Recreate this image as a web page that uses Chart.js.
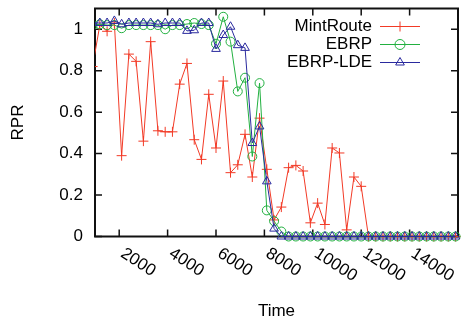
<!DOCTYPE html>
<html>
<head>
<meta charset="utf-8">
<script src="https://cdn.jsdelivr.net/npm/chart.js@4.4.1/dist/chart.umd.min.js"></script>
<style>
  html, body { margin: 0; padding: 0; background: #ffffff; }
  #wrap { width: 464px; height: 323px; }
</style>
</head>
<body>
<div id="wrap"><canvas id="c" width="464" height="323"></canvas></div>
<script>
// Sampling instants (time)
const times = [900, 1200, 1500, 1800, 2100, 2400, 2700, 3000, 3300, 3600,
  3900, 4200, 4500, 4800, 5100, 5400, 5700, 6000, 6300, 6600,
  6900, 7200, 7500, 7800, 8100, 8400, 8700, 9000, 9300, 9600,
  9900, 10200, 10500, 10800, 11100, 11400, 11700, 12000, 12300, 12600,
  12900, 13200, 13500, 13800, 14100, 14400, 14700, 15000, 15300, 15600, 15900];

// RPR per protocol
const mintRoute = [0.82, 1.02, 0.99, 1.03, 0.39, 0.88, 0.845, 0.46, 0.94, 0.51,
  0.505, 0.505, 0.735, 0.835, 0.467, 0.372, 0.686, 0.427, 0.75, 0.308,
  0.346, 0.493, 0.287, 0.571, 0.324, 0.08, 0.142, 0.332, 0.343, 0.316,
  0.066, 0.161, 0.058, 0.427, 0.403, 0.032, 0.287, 0.242, 0, 0,
  0, 0, 0, 0, 0, 0, 0, 0, 0, 0, 0];
const ebrp = [1.02, 1.024, 1.02, 1.02, 1.005, 1.02, 1.02, 1.02, 1.02, 1.02,
  1.0, 1.02, 1.02, 1.025, 1.03, 1.025, 1.02, 0.93, 1.06, 0.94,
  0.70, 0.766, 0.386, 0.74, 0.126, 0.074, 0.024, 0, 0, 0,
  0, 0, 0, 0, 0, 0, 0, 0, 0, 0,
  0, 0, 0, 0, 0, 0, 0, 0, 0, 0, 0];
const ebrpLde = [1.03, 1.03, 1.03, 1.04, 1.024, 1.03, 1.03, 1.03, 1.03, 1.024,
  1.03, 1.03, 1.03, 0.992, 0.995, 1.03, 1.03, 0.905, 0.972, 1.012,
  0.923, 0.91, 0.451, 0.531, 0.266, 0.038, 0, 0, 0, 0,
  0, 0, 0, 0, 0, 0, 0, 0, 0, 0,
  0, 0, 0, 0, 0, 0, 0, 0, 0, 0, 0];

// Axis ticks
const xTickValues = [2000, 4000, 6000, 8000, 10000, 12000, 14000, 16000];
const xTickLabels = ['2000', '4000', '6000', '8000', '10000', '12000', '14000'];
const yTickValues = [0, 0.2, 0.4, 0.6, 0.8, 1];
const yTickLabels = ['0', '0.2', '0.4', '0.6', '0.8', '1'];

const seriesNames = ['MintRoute', 'EBRP', 'EBRP-LDE'];
const seriesColors = ['#f23a26', '#22b040', '#2a2a9e'];
const seriesMarkers = ['cross', 'circle', 'triangle'];

const FONT = '"Liberation Sans", Arial, Helvetica, sans-serif';
const toPoints = arr => arr.map((v, i) => ({ x: times[i], y: v }));

function markerPath(ctx, style, x, y, r) {
  ctx.beginPath();
  if (style === 'cross') {
    ctx.moveTo(x - r, y); ctx.lineTo(x + r, y);
    ctx.moveTo(x, y - r); ctx.lineTo(x, y + r);
  } else if (style === 'circle') {
    ctx.arc(x, y, r, 0, Math.PI * 2);
  } else {
    ctx.moveTo(x, y - r);
    ctx.lineTo(x + r * 0.866, y + r * 0.5);
    ctx.lineTo(x - r * 0.866, y + r * 0.5);
    ctx.closePath();
  }
  ctx.stroke();
}

// Box border with inward ticks on all four sides
const framePlugin = {
  id: 'frame',
  beforeDatasetsDraw(chart) {
    const { ctx, chartArea: a, scales } = chart;
    const tl = 7;
    ctx.save();
    ctx.strokeStyle = '#111';
    ctx.lineWidth = 2;
    ctx.strokeRect(a.left, a.top, a.right - a.left, a.bottom - a.top);
    ctx.lineWidth = 1.5;
    ctx.beginPath();
    xTickValues.forEach(v => {
      const px = scales.x.getPixelForValue(v);
      ctx.moveTo(px, a.bottom); ctx.lineTo(px, a.bottom - tl);
      ctx.moveTo(px, a.top); ctx.lineTo(px, a.top + tl);
    });
    yTickValues.forEach(v => {
      const py = scales.y.getPixelForValue(v);
      ctx.moveTo(a.left, py); ctx.lineTo(a.left + tl, py);
      ctx.moveTo(a.right, py); ctx.lineTo(a.right - tl, py);
    });
    ctx.stroke();
    ctx.restore();
  },
  afterDraw(chart) {
    const { ctx, scales } = chart;
    ctx.save();
    // slanted time labels
    ctx.font = '17px ' + FONT;
    ctx.fillStyle = '#000';
    ctx.textAlign = 'left';
    ctx.textBaseline = 'middle';
    xTickLabels.forEach(lbl => {
      const px = scales.x.getPixelForValue(Number(lbl));
      ctx.save();
      ctx.translate(px + 3, 252);
      ctx.rotate(33 * Math.PI / 180);
      ctx.fillText(lbl, 0, 0);
      ctx.restore();
    });
    // key: right-justified names followed by line samples
    const textRight = 372, s0 = 380, s1 = 420, rowY = [26.5, 44.5, 62.5];
    seriesNames.forEach((name, i) => {
      const y = rowY[i];
      ctx.fillStyle = '#000';
      ctx.textAlign = 'right';
      ctx.fillText(name, textRight, y);
      ctx.strokeStyle = seriesColors[i];
      ctx.lineWidth = 1;
      ctx.beginPath(); ctx.moveTo(s0, y); ctx.lineTo(s1, y); ctx.stroke();
      markerPath(ctx, seriesMarkers[i], (s0 + s1) / 2, y, 5);
    });
    ctx.restore();
  }
};

const datasets = [mintRoute, ebrp, ebrpLde].map((arr, i) => ({
  label: seriesNames[i],
  data: toPoints(arr),
  borderColor: seriesColors[i],
  backgroundColor: 'rgba(0,0,0,0)',
  borderWidth: 1,
  pointStyle: seriesMarkers[i],
  pointRadius: i === 1 ? 4.5 : 5,
  pointBorderWidth: 1,
  pointBorderColor: seriesColors[i],
  pointBackgroundColor: 'rgba(0,0,0,0)',
  tension: 0,
  fill: false,
  order: 3 - i,
  clip: { left: 0, top: false, right: false, bottom: false }
}));

new Chart(document.getElementById('c'), {
  type: 'line',
  data: { datasets },
  options: {
    responsive: false,
    animation: false,
    devicePixelRatio: 1,
    layout: { padding: { top: 8.5, right: 0.5, bottom: 0, left: 0 } },
    plugins: { legend: { display: false }, tooltip: { enabled: false } },
    scales: {
      x: {
        type: 'linear',
        min: 1000,
        max: 16000,
        grid: { display: false, drawTicks: false },
        border: { display: false },
        ticks: { display: false },
        title: { display: true, text: 'Time', color: '#000', font: { family: FONT, size: 17 }, padding: { top: 0, bottom: 1 } },
        afterFit(scale) { scale.height = 86.5; scale.paddingLeft = 0; scale.paddingRight = 0; }
      },
      y: {
        min: 0,
        max: 1.1,
        grid: { display: false, drawTicks: false },
        border: { display: false },
        afterBuildTicks(scale) { scale.ticks = yTickValues.map(v => ({ value: v })); },
        ticks: {
          color: '#000',
          padding: 12,
          font: { family: FONT, size: 17 },
          callback: (v) => yTickLabels[yTickValues.indexOf(v)] ?? String(v)
        },
        title: { display: true, text: 'RPR', color: '#000', font: { family: FONT, size: 17 }, padding: { top: 8, bottom: 0 } },
        afterFit(scale) { scale.width = 95; scale.paddingTop = 0; scale.paddingBottom = 0; }
      }
    }
  },
  plugins: [framePlugin]
});
</script>
</body>
</html>
